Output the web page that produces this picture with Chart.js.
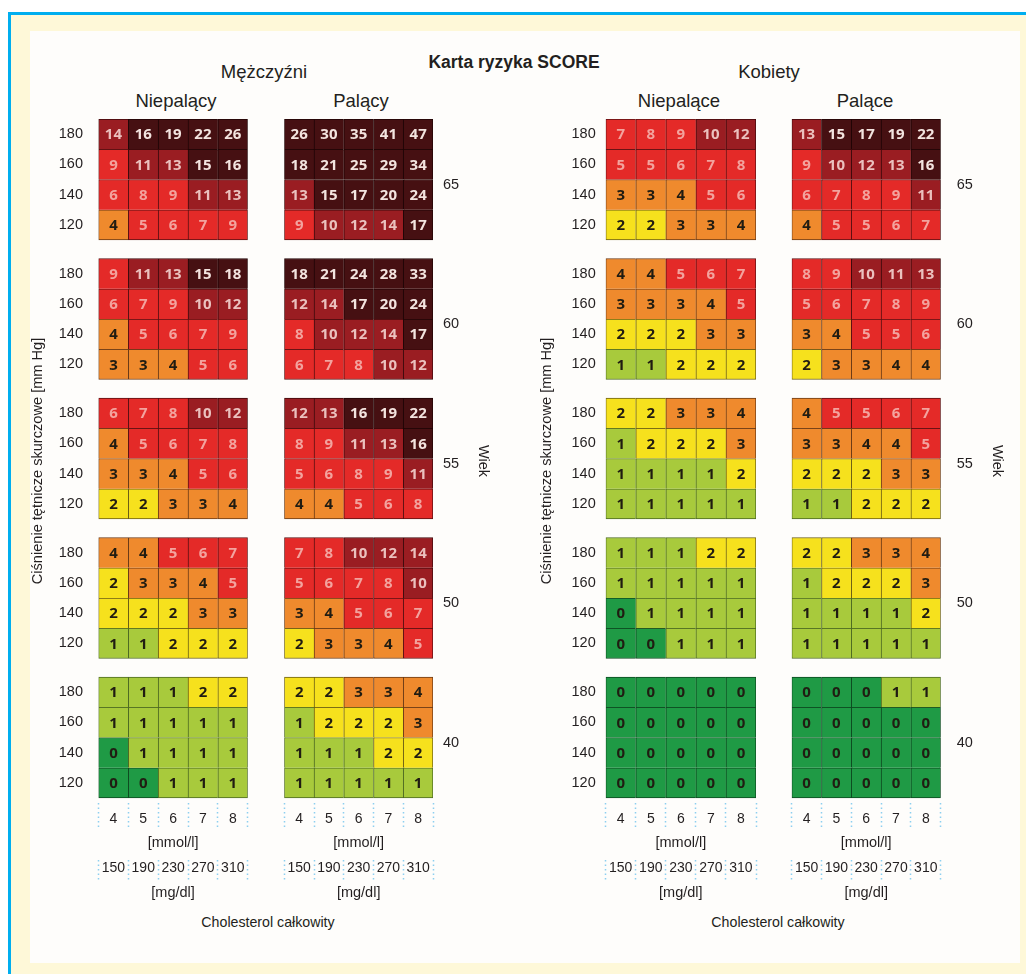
<!DOCTYPE html>
<html>
<head>
<meta charset="utf-8">
<script src="https://cdn.jsdelivr.net/npm/chart.js@4/dist/chart.umd.min.js"></script>
<style>
html,body{margin:0;padding:0;background:#fff;}
#page{position:relative;width:1026px;height:974px;overflow:hidden;background:#fff;}
#frame{position:absolute;left:8px;top:12px;right:0;bottom:0;background:#FEF8D8;border-left:3px solid #00AEEF;border-top:3px solid #00AEEF;}
#inner{position:absolute;left:30px;top:31px;width:990px;height:932px;background:#FEFDFB;}
canvas{position:absolute;}
.t{position:absolute;transform:translate(-50%,-50%);white-space:nowrap;line-height:1;font-family:"Liberation Sans",Arial,sans-serif;color:#231f20;}
</style>
</head>
<body>
<div id="page">
  <div id="frame"></div>
  <div id="inner"></div>
  <div class="t" style="left:514px;top:63px;font-size:17.5px;font-weight:bold;">Karta ryzyka SCORE</div>
  <div class="t" style="left:264px;top:72px;font-size:18.5px;">Mężczyźni</div>
  <div class="t" style="left:769px;top:72px;font-size:18.5px;">Kobiety</div>
  <div class="t" style="left:176px;top:101px;font-size:18.5px;">Niepalący</div>
  <div class="t" style="left:361px;top:101px;font-size:18.5px;">Palący</div>
  <div class="t" style="left:679px;top:101px;font-size:18.5px;">Niepalące</div>
  <div class="t" style="left:865px;top:101px;font-size:18.5px;">Palące</div>
  <div class="t" style="left:268px;top:922px;font-size:14.2px;">Cholesterol całkowity</div>
  <div class="t" style="left:778px;top:922px;font-size:14.2px;">Cholesterol całkowity</div>
  <canvas id="p1" width="232" height="793" style="left:20px;top:110px;"></canvas>
  <canvas id="p2" width="215" height="793" style="left:280px;top:110px;"></canvas>
  <canvas id="p3" width="230" height="793" style="left:530px;top:110px;"></canvas>
  <canvas id="p4" width="224" height="793" style="left:788px;top:110px;"></canvas>
</div>
<script>
// ---- data ----
const cholMmol = ['4','5','6','7','8'];
const cholMgdl = ['150','190','230','270','310'];
const sbpLevels = ['180','160','140','120'];
const ages = ['65','60','55','50','40'];

// [age block][SBP row 180..120][cholesterol 4..8]
const menNonSmoker = [
  [[14,16,19,22,26],[9,11,13,15,16],[6,8,9,11,13],[4,5,6,7,9]],
  [[9,11,13,15,18],[6,7,9,10,12],[4,5,6,7,9],[3,3,4,5,6]],
  [[6,7,8,10,12],[4,5,6,7,8],[3,3,4,5,6],[2,2,3,3,4]],
  [[4,4,5,6,7],[2,3,3,4,5],[2,2,2,3,3],[1,1,2,2,2]],
  [[1,1,1,2,2],[1,1,1,1,1],[0,1,1,1,1],[0,0,1,1,1]]
];
const menSmoker = [
  [[26,30,35,41,47],[18,21,25,29,34],[13,15,17,20,24],[9,10,12,14,17]],
  [[18,21,24,28,33],[12,14,17,20,24],[8,10,12,14,17],[6,7,8,10,12]],
  [[12,13,16,19,22],[8,9,11,13,16],[5,6,8,9,11],[4,4,5,6,8]],
  [[7,8,10,12,14],[5,6,7,8,10],[3,4,5,6,7],[2,3,3,4,5]],
  [[2,2,3,3,4],[1,2,2,2,3],[1,1,1,2,2],[1,1,1,1,1]]
];
const womenNonSmoker = [
  [[7,8,9,10,12],[5,5,6,7,8],[3,3,4,5,6],[2,2,3,3,4]],
  [[4,4,5,6,7],[3,3,3,4,5],[2,2,2,3,3],[1,1,2,2,2]],
  [[2,2,3,3,4],[1,2,2,2,3],[1,1,1,1,2],[1,1,1,1,1]],
  [[1,1,1,2,2],[1,1,1,1,1],[0,1,1,1,1],[0,0,1,1,1]],
  [[0,0,0,0,0],[0,0,0,0,0],[0,0,0,0,0],[0,0,0,0,0]]
];
const womenSmoker = [
  [[13,15,17,19,22],[9,10,12,13,16],[6,7,8,9,11],[4,5,5,6,7]],
  [[8,9,10,11,13],[5,6,7,8,9],[3,4,5,5,6],[2,3,3,4,4]],
  [[4,5,5,6,7],[3,3,4,4,5],[2,2,2,3,3],[1,1,2,2,2]],
  [[2,2,3,3,4],[1,2,2,2,3],[1,1,1,1,2],[1,1,1,1,1]],
  [[0,0,0,1,1],[0,0,0,0,0],[0,0,0,0,0],[0,0,0,0,0]]
];

// ---- styling ----
const FONT = '"Liberation Sans", Arial, sans-serif';
const TXT = '#231f20';
const GAP = 0.61;     // gap between age blocks, in row units
const EXTRA = 0.165;  // space below last block
const ROWS = sbpLevels.length;
const YMAX = ages.length * ROWS + (ages.length - 1) * GAP + EXTRA;

function riskColor(v){
  if (v <= 0) return '#1f9a45';
  if (v === 1) return '#a8ca3c';
  if (v === 2) return '#f6e11d';
  if (v <= 4) return '#ef8a2d';
  if (v <= 9) return '#e42a28';
  if (v <= 14) return '#9a1d22';
  return '#461012';
}
function borderColor(v){
  if (v <= 0) return '#0d4a20';
  if (v === 1) return '#4d6a22';
  if (v === 2) return '#6b5e14';
  if (v <= 4) return '#6a3a16';
  if (v <= 9) return '#5a1012';
  if (v <= 14) return '#3d0a0c';
  return '#200506';
}
function textColor(v){
  if (v <= 4) return '#201c12';
  if (v <= 9) return '#f3a39e';
  if (v <= 14) return '#ebc1be';
  return '#f3e4df';
}

const cellLabels = {
  id: 'cellLabels',
  afterDatasetsDraw(chart){
    const ctx = chart.ctx;
    ctx.save();
    ctx.font = 'bold 15px "Open Sans", "DejaVu Sans Condensed", sans-serif';
    ctx.textAlign = 'center';
    ctx.textBaseline = 'middle';
    chart.data.datasets.forEach((ds, i) => {
      chart.getDatasetMeta(i).data.forEach((el, j) => {
        const v = ds.values[j];
        const p = el.getProps(['x','y','base'], true);
        ctx.fillStyle = textColor(v);
        ctx.fillText(String(v), p.x, (p.y + p.base) / 2 + 1);
      });
    });
    ctx.restore();
  }
};

function makePanel(id, values, o){
  const datasets = [];
  values.forEach((block, b) => {
    block.forEach((row, r) => {
      const y0 = b * (ROWS + GAP) + r;
      datasets.push({
        data: row.map(() => [y0, y0 + 1]),
        values: row,
        backgroundColor: row.map(riskColor),
        borderColor: row.map(borderColor),
        borderWidth: row.map((v, c) => ({top: 1, left: 1, right: c === row.length - 1 ? 1 : 0, bottom: r === ROWS - 1 ? 1 : 0})),
        borderSkipped: false,
        grouped: false,
        barPercentage: 1,
        categoryPercentage: 1
      });
    });
  });

  const rowTicks = [];
  ages.forEach((a, b) => sbpLevels.forEach((s, r) => rowTicks.push(b * (ROWS + GAP) + r + 0.5)));
  const ageTicks = ages.map((a, b) => b * (ROWS + GAP) + ROWS / 2 + 0.18);

  const dotted = (len) => ({display: true, drawOnChartArea: false, drawTicks: true, tickLength: len,
    tickColor: '#8ccff0', tickWidth: 1.5, tickBorderDash: [1.5, 3], offset: true});
  const fixH = (h) => (s) => { s.height = h; s.paddingLeft = 0; s.paddingRight = 0; };
  const fixW = (w) => (s) => { s.width = w; s.paddingTop = 0; s.paddingBottom = 0; };

  new Chart(document.getElementById(id), {
    type: 'bar',
    data: {labels: cholMmol, datasets},
    options: {
      responsive: false, animation: false, devicePixelRatio: 1,
      layout: {padding: {top: 9, left: o.padL, right: o.padR, bottom: 0}},
      plugins: {legend: {display: false}, tooltip: {enabled: false}},
      scales: {
        x: {
          type: 'category', position: 'bottom', offset: true,
          grid: dotted(27), border: {display: false},
          ticks: {font: {family: FONT, size: 14}, color: TXT, padding: -19.4, maxRotation: 0, autoSkip: false},
          title: {display: true, text: '[mmol/l]', font: {family: FONT, size: 14.5}, color: TXT, padding: {top: 0, bottom: 8.3}},
          afterFit: fixH(57)
        },
        x2: {
          type: 'category', labels: cholMgdl, position: 'bottom', offset: true,
          grid: dotted(20), border: {display: false},
          ticks: {font: {family: FONT, size: 14}, color: TXT, padding: -20.4, maxRotation: 0, autoSkip: false},
          title: {display: true, text: '[mg/dl]', font: {family: FONT, size: 14.5}, color: TXT, padding: {top: 0, bottom: 1.3}},
          afterFit: fixH(43)
        },
        y: {
          type: 'linear', position: 'left', min: 0, max: YMAX, reverse: true, display: o.left,
          grid: {display: false, drawTicks: false}, border: {display: false},
          afterBuildTicks(s){ s.ticks = rowTicks.map(v => ({value: v})); },
          ticks: {font: {family: FONT, size: 14.5}, color: TXT, padding: o.tickPadL, autoSkip: false,
                  callback: (v, i) => sbpLevels[i % ROWS]},
          title: {display: true, text: 'Ciśnienie tętnicze skurczowe [mm Hg]', font: {family: FONT, size: 14.6}, color: TXT, padding: {top: o.titlePadL, bottom: 0}},
          afterFit: fixW(o.axisL)
        },
        yAge: {
          type: 'linear', position: 'right', min: 0, max: YMAX, reverse: true, display: o.right,
          grid: {display: false, drawTicks: false}, border: {display: false},
          afterBuildTicks(s){ s.ticks = ageTicks.map(v => ({value: v})); },
          ticks: {font: {family: FONT, size: 14.5}, color: TXT, padding: o.tickPadR, autoSkip: false,
                  callback: (v, i) => ages[i]},
          title: {display: true, text: 'Wiek', font: {family: FONT, size: 14.5}, color: TXT, padding: {top: o.titlePadR, bottom: 0}},
          afterFit: fixW(o.axisR)
        }
      }
    },
    plugins: [cellLabels]
  });
}

makePanel('p1', menNonSmoker,   {left: true,  right: false, padL: 0, padR: 4.3, axisL: 78.5, tickPadL: 15.5, titlePadL: 9.7, axisR: 0, tickPadR: 0, titlePadR: 0});
makePanel('p2', menSmoker,      {left: false, right: true,  padL: 4.3, padR: 0, axisL: 0, tickPadL: 0, titlePadL: 0, axisR: 62, tickPadR: 10, titlePadR: 3.3});
makePanel('p3', womenNonSmoker, {left: true,  right: false, padL: 0, padR: 4, axisL: 75.7, tickPadL: 10, titlePadL: 8.2, axisR: 0, tickPadR: 0, titlePadR: 0});
makePanel('p4', womenSmoker,    {left: false, right: true,  padL: 3.7, padR: 0, axisL: 0, tickPadL: 0, titlePadL: 0, axisR: 71.3, tickPadR: 16, titlePadR: 6.3});
</script>
</body>
</html>
